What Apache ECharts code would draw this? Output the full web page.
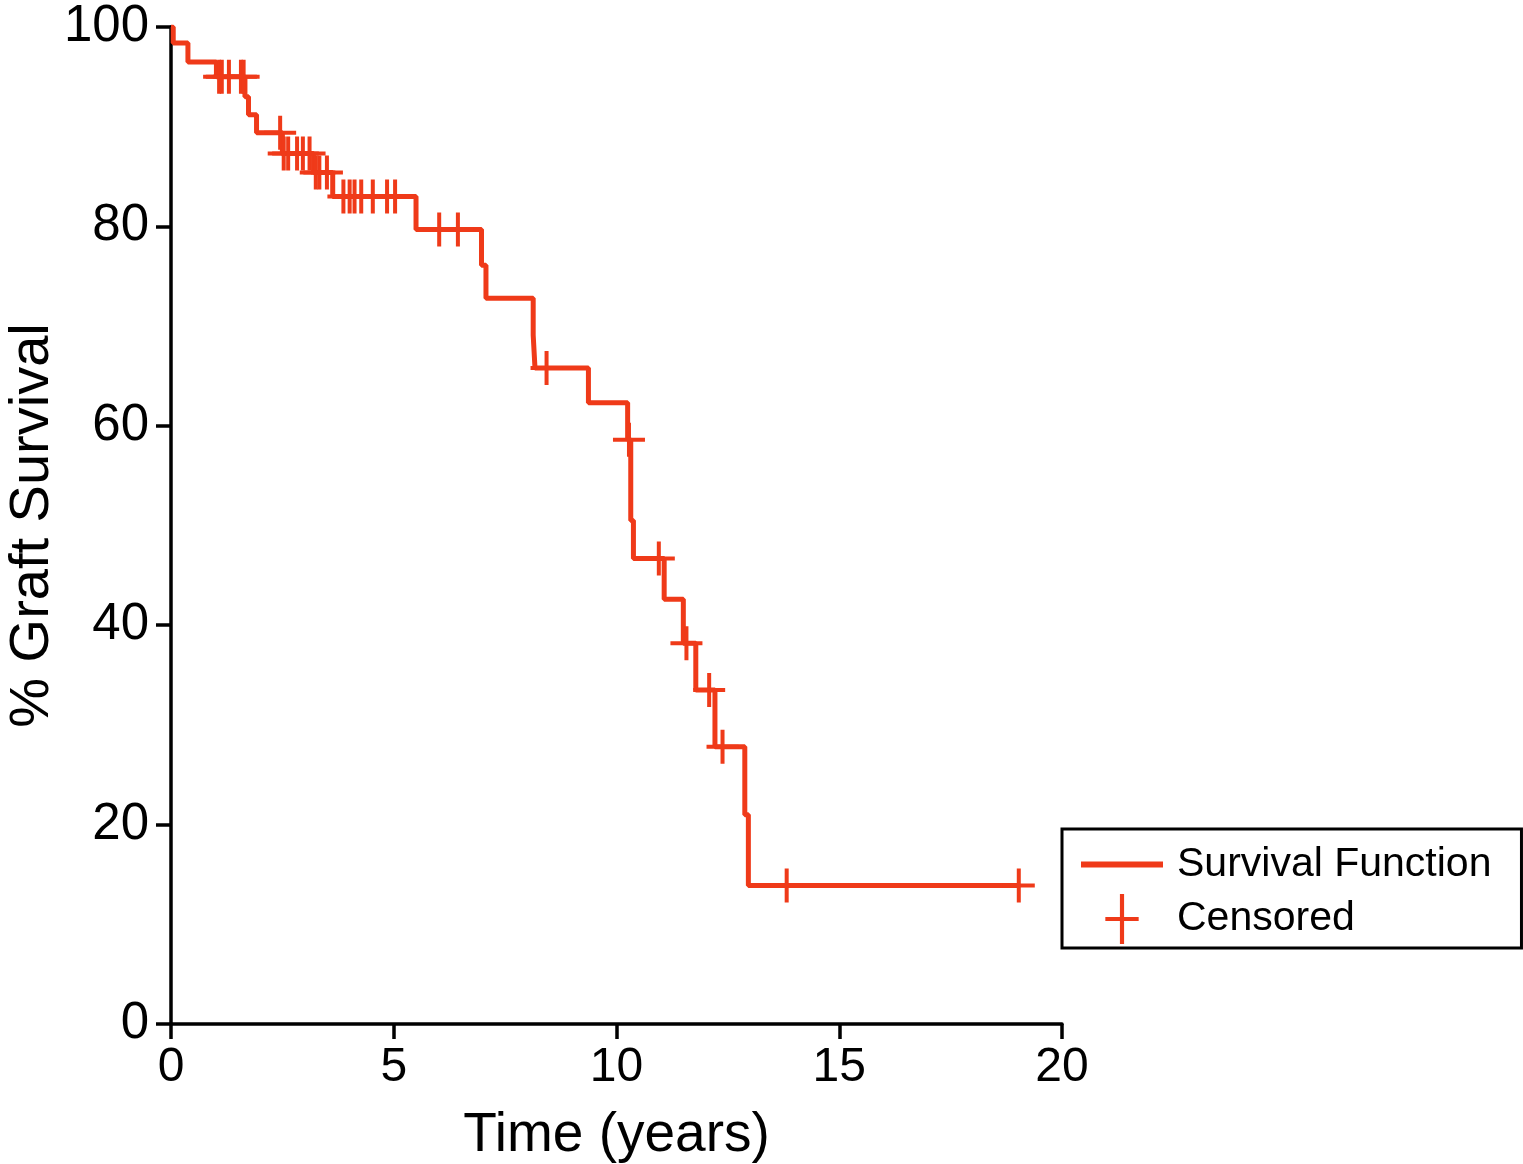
<!DOCTYPE html>
<html>
<head>
<meta charset="utf-8">
<script src="https://cdn.jsdelivr.net/npm/echarts@6/dist/echarts.min.js"></script>
<style>
html,body{margin:0;padding:0;background:#fff;}
#chart{width:1523px;height:1164px;}
</style>
</head>
<body>
<div id="chart"></div>
<script>
// Kaplan-Meier step function: event times (years) and survival (%) after each step
const stepTimes = [0, 0.05, 0.38, 1.02, 1.66, 1.74, 1.92, 2.5, 3.2, 3.63, 5.5, 6.97, 7.07, 8.13, 8.17, 9.37, 10.25, 10.32, 10.38, 11.07, 11.5, 11.78, 12.21, 12.88, 12.96, 19.03];
const stepSurvival = [100, 98.4, 96.5, 95.0, 93.0, 91.2, 89.4, 87.3, 85.4, 83.0, 79.7, 76.1, 72.8, 69.1, 65.8, 62.3, 58.6, 50.5, 46.7, 42.6, 38.2, 33.5, 27.8, 21.0, 13.9, 13.9];

// Censored observations
const censorTimes = [1.08, 1.14, 1.3, 1.57, 1.63,
  2.45,
  2.53, 2.63, 2.83, 2.96, 3.11,
  3.25, 3.33, 3.5,
  3.87, 4.01, 4.12, 4.27, 4.53, 4.85, 5.03,
  6.02, 6.44,
  8.43,
  10.28,
  10.95,
  11.57,
  12.08,
  12.38,
  13.82, 19.03];
const censorSurvival = [95.0, 95.0, 95.0, 95.0, 95.0,
  89.4,
  87.3, 87.3, 87.3, 87.3, 87.3,
  85.4, 85.4, 85.4,
  83.0, 83.0, 83.0, 83.0, 83.0, 83.0, 83.0,
  79.7, 79.7,
  65.8,
  58.6,
  46.7,
  38.2,
  33.5,
  27.8,
  13.9, 13.9];

const xTicks = [0, 5, 10, 15, 20];
const yTicks = [0, 20, 40, 60, 80, 100];

const RED = '#EF3A19';
const FONT = 'Liberation Sans';
const plusPath = 'path://M0,15H14V0H18V15H32V19H18V34H14V19H0Z';
const plusLegend = 'path://M0,22H14V0H18V22H32V26H18V48H14V26H0Z';
const lineLegend = 'path://M0,0H82V6H0Z';

const chart = echarts.init(document.getElementById('chart'));
chart.setOption({
  animation: false,
  backgroundColor: '#ffffff',
  textStyle: { fontFamily: FONT },
  grid: { left: 171, right: 461, top: 27, bottom: 140, containLabel: false, outerBoundsMode: 'none' },
  legend: {
    orient: 'vertical',
    left: 1062,
    top: 829,
    padding: [15, 30, 4, 19],
    itemWidth: 82,
    itemHeight: 50,
    itemGap: 9,
    borderColor: '#000',
    borderWidth: 3,
    backgroundColor: '#fff',
    textStyle: { fontSize: 41, color: '#000', fontFamily: FONT, padding: [0, 0, 0, 9] },
    data: [
      { name: 'Survival Function', icon: lineLegend, itemStyle: { color: RED, opacity: 1 } },
      { name: 'Censored', icon: plusLegend, itemStyle: { color: RED, opacity: 1 } }
    ]
  },
  xAxis: {
    type: 'value',
    min: xTicks[0],
    max: xTicks[xTicks.length - 1],
    interval: 5,
    name: 'Time (years)',
    nameLocation: 'middle',
    nameGap: 84,
    nameTextStyle: { fontSize: 55, color: '#000', fontFamily: FONT },
    axisLine: { show: true, lineStyle: { color: '#000', width: 3.5 } },
    axisTick: { show: true, length: 15, lineStyle: { color: '#000', width: 3.5 } },
    axisLabel: { fontSize: 48, color: '#000', margin: 20, fontFamily: FONT },
    splitLine: { show: false }
  },
  yAxis: {
    type: 'value',
    min: yTicks[0],
    max: yTicks[yTicks.length - 1],
    interval: 20,
    name: '% Graft Survival',
    nameLocation: 'middle',
    nameGap: 110,
    nameMoveOverlap: false,
    nameTextStyle: { fontSize: 56, color: '#000', fontFamily: FONT },
    axisLine: { show: true, lineStyle: { color: '#000', width: 3.5 } },
    axisTick: { show: true, length: 15, lineStyle: { color: '#000', width: 3.5 } },
    axisLabel: { fontSize: 51, color: '#000', margin: 22, fontFamily: FONT },
    splitLine: { show: false }
  },
  series: [
    {
      name: 'Survival Function',
      type: 'line',
      step: 'end',
      symbol: 'none',
      color: RED,
      lineStyle: { color: RED, width: 5 },
      data: stepTimes.map((t, i) => [t, stepSurvival[i]]),
      z: 2
    },
    {
      name: 'Censored',
      type: 'scatter',
      symbol: plusPath,
      symbolSize: [32, 34],
      color: RED,
      itemStyle: { color: RED, opacity: 1 },
      data: censorTimes.map((t, i) => [t, censorSurvival[i]]),
      z: 3
    }
  ]
});
</script>
</body>
</html>
